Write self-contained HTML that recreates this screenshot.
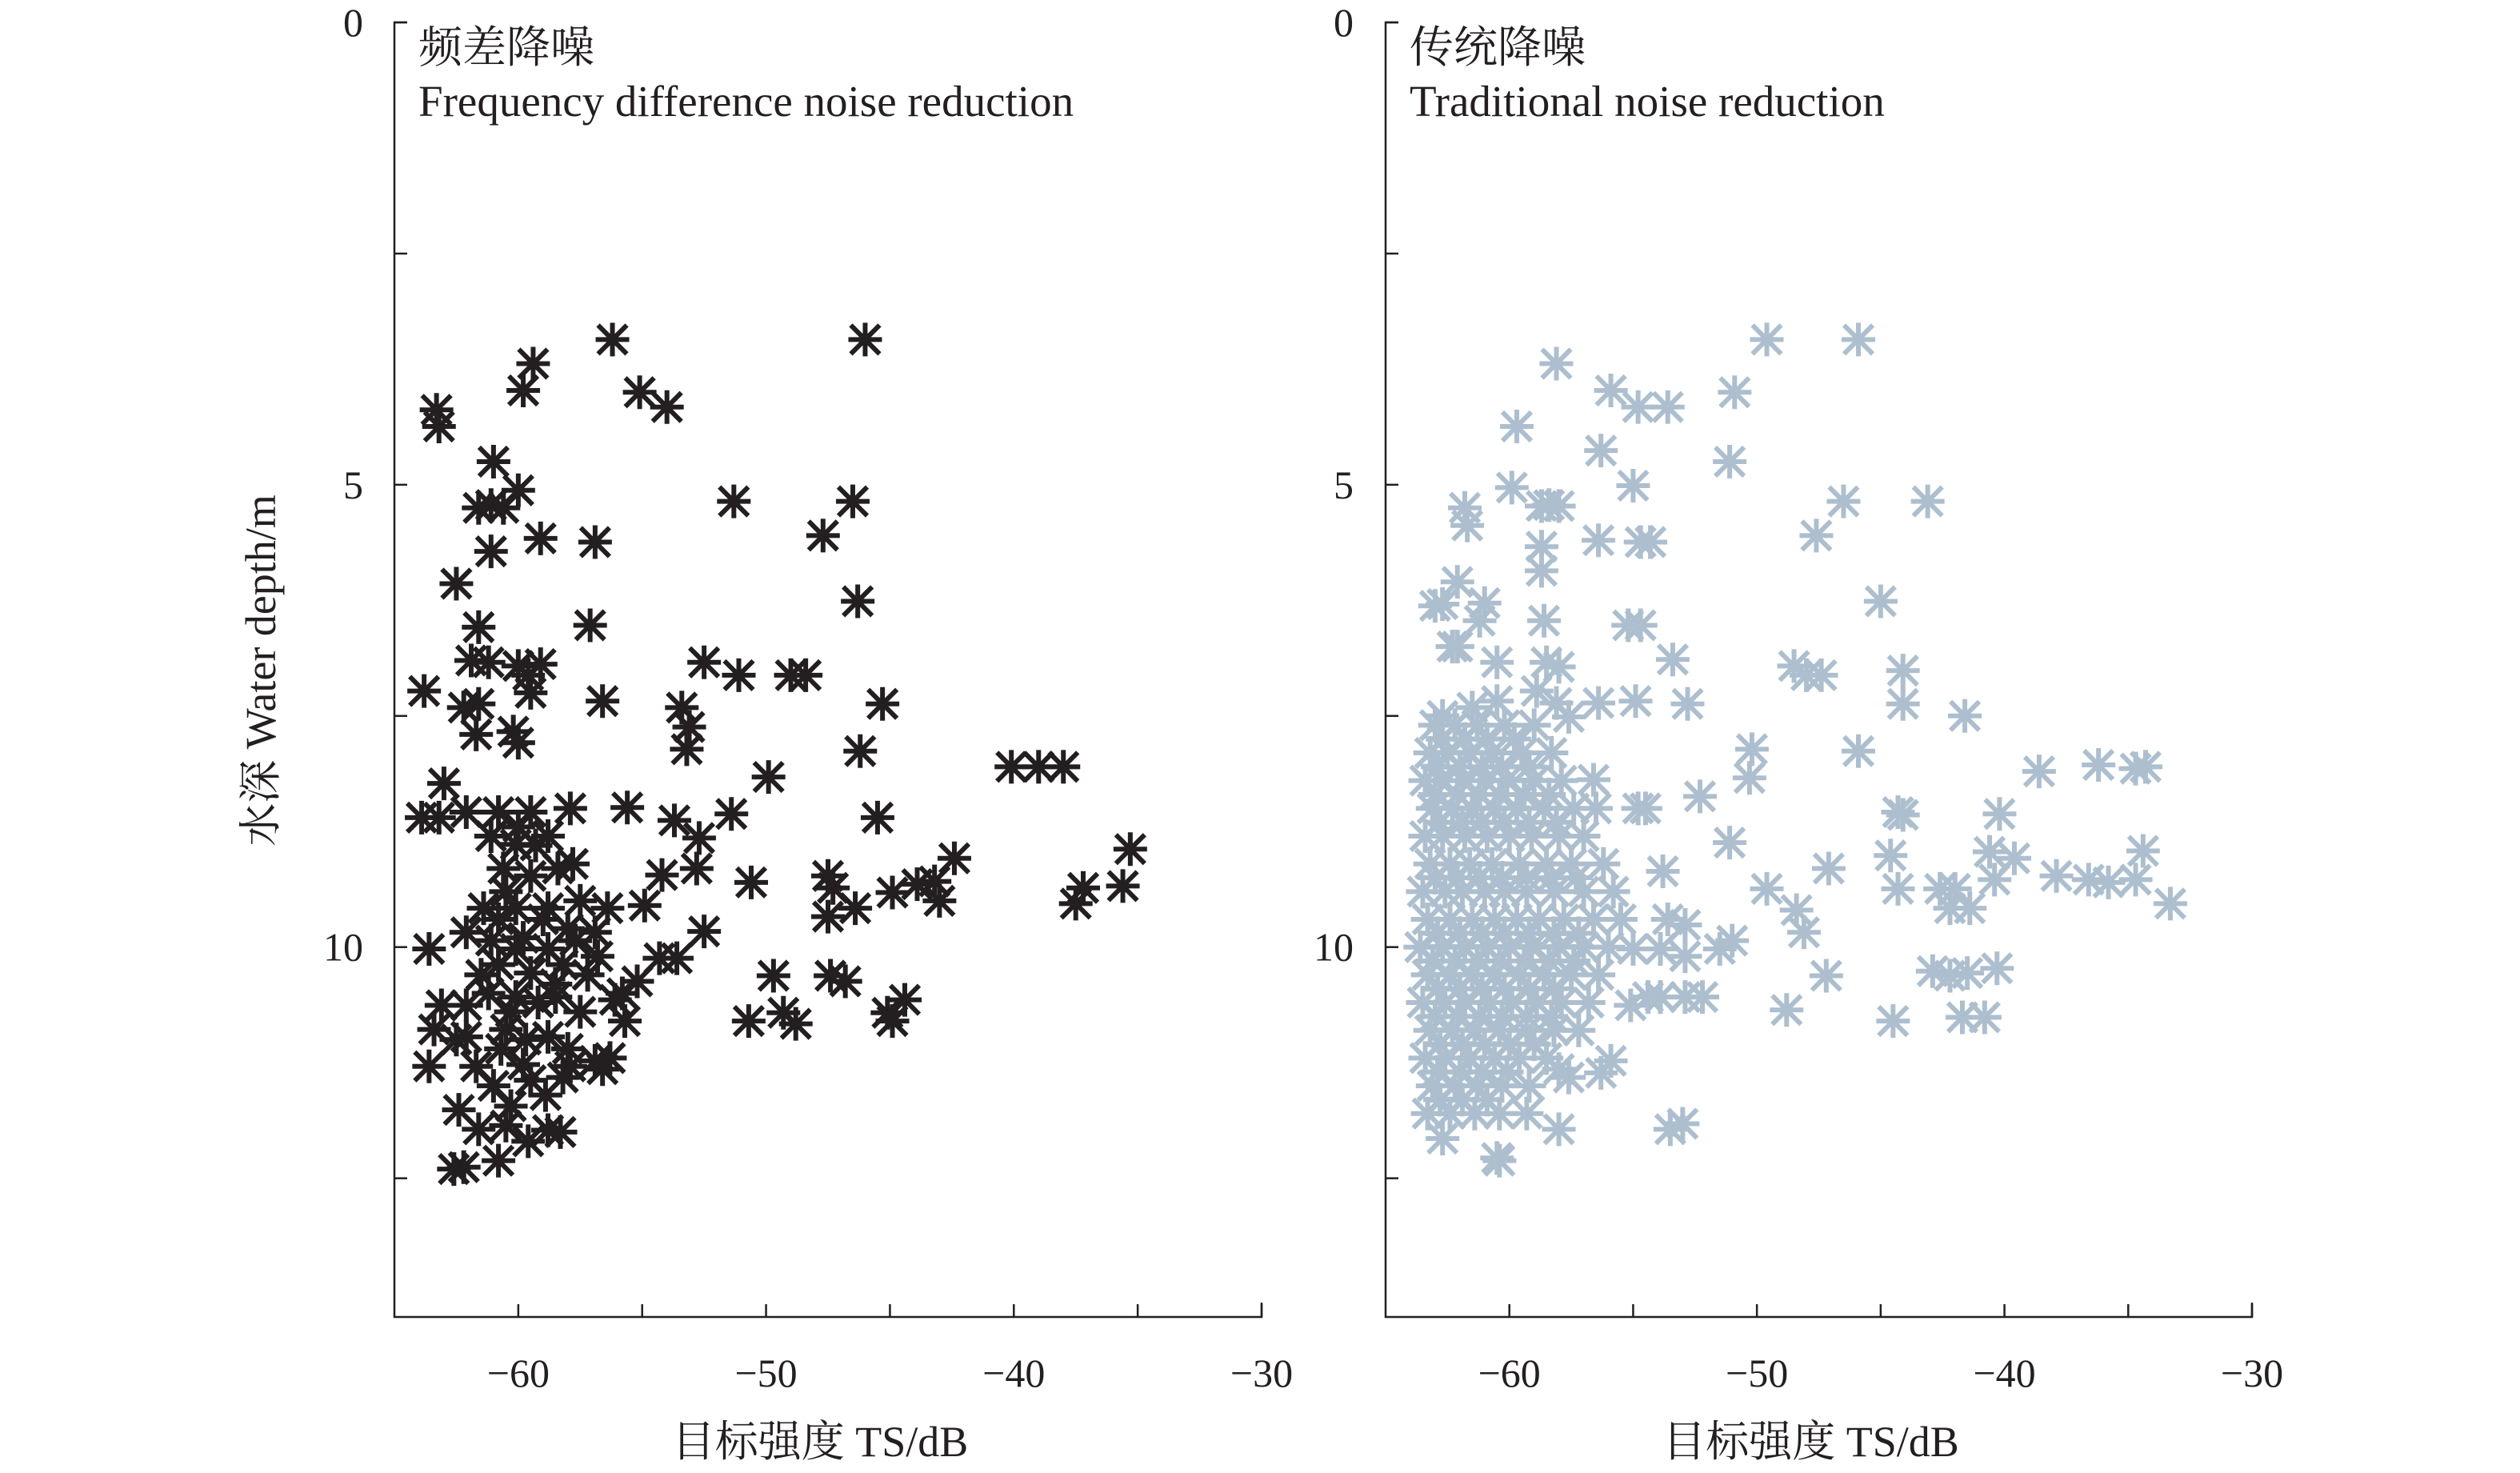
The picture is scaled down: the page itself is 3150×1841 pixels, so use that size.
<!DOCTYPE html>
<html><head><meta charset="utf-8"><style>
html,body{margin:0;padding:0;background:#fff;}
svg{display:block;}
text{font-family:"Liberation Serif","Noto Serif CJK SC",serif;fill:#231f20;}
</style></head><body>
<svg id="chart" width="3150" height="1841" viewBox="0 0 3150 1841" xmlns="http://www.w3.org/2000/svg"></svg>
<script>
// ---- data ----
const xTicks = [-60, -50, -40, -30];
const xMinorTicks = [-60, -55, -50, -45, -40, -35, -30];
const yTicks = [0, 5, 10];
const yMinorTicks = [0, 2.5, 5, 7.5, 10, 12.5];
const panelTitlesCN = ["频差降噪", "传统降噪"];
const panelTitlesEN = ["Frequency difference noise reduction", "Traditional noise reduction"];

const freqTS = [-56.2,-46.0,-59.4,-59.8,-55.1,-54.0,-63.3,-63.2,-61.0,-60.0,-61.6,-61.1,-60.6,-51.3,-46.5,-47.7,-61.1,-59.1,-56.9,-62.5,-46.3,-61.6,-57.1,-61.9,-61.2,-60.0,-59.1,-59.6,-52.5,-51.1,-49.0,-48.4,-63.8,-56.6,-59.5,-62.2,-61.6,-45.3,-53.4,-53.1,-61.7,-60.2,-60.0,-53.2,-46.2,-40.1,-39.0,-38.0,-49.9,-63.0,-63.9,-63.2,-62.1,-60.8,-59.5,-57.9,-55.6,-53.7,-45.5,-51.4,-61.1,-60.1,-58.8,-52.7,-42.4,-35.3,-60.6,-59.5,-58.4,-52.8,-54.2,-50.6,-47.5,-47.3,-44.9,-43.9,-43.2,-43.0,-35.6,-37.2,-37.5,-61.4,-60.1,-58.8,-57.5,-56.4,-54.9,-46.4,-47.5,-62.1,-61.1,-60.1,-58.8,-57.7,-56.9,-63.6,-52.5,-60.8,-59.5,-58.2,-54.3,-53.6,-49.7,-47.4,-46.8,-55.2,-63.1,-62.1,-60.1,-58.5,-56.1,-55.7,-44.4,-45.1,-44.9,-50.7,-49.3,-48.8,-63.4,-62.1,-60.5,-58.8,-63.6,-61.7,-59.8,-57.9,-56.9,-56.6,-59.5,-58.2,-62.4,-60.3,-61.6,-60.5,-58.8,-58.3,-62.6,-62.2,-60.8,-60.5,-59.0,-58.0,-60.8,-59.8,-58.5,-59.2,-60.3,-57.5,-61.5,-59.7,-58.0,-60.7,-61.2,-57.2,-56.8,-59.3,-57.8,-60.0,-59.6,-58.9,-61.0,-62.5,-56.3,-55.8];
const freqDepth = [3.43,3.43,3.69,3.98,4.0,4.16,4.19,4.37,4.75,5.06,5.25,5.22,5.25,5.18,5.18,5.55,5.72,5.58,5.62,6.07,6.26,6.54,6.52,6.9,6.92,6.96,6.94,7.06,6.92,7.06,7.06,7.06,7.23,7.34,7.25,7.41,7.37,7.37,7.41,7.62,7.70,7.67,7.79,7.86,7.88,8.05,8.05,8.05,8.16,8.23,8.6,8.6,8.54,8.54,8.54,8.5,8.49,8.63,8.6,8.56,8.8,8.89,8.8,8.82,9.04,8.94,9.15,9.23,9.15,9.15,9.22,9.3,9.23,9.36,9.41,9.32,9.29,9.5,9.34,9.36,9.53,9.58,9.58,9.58,9.5,9.58,9.55,9.58,9.67,9.84,9.93,10.02,10.02,9.93,9.84,10.02,9.83,10.19,10.28,10.19,10.12,10.12,10.31,10.31,10.37,10.37,10.63,10.63,10.54,10.54,10.57,10.8,10.57,10.71,10.8,10.8,10.71,10.83,10.89,10.97,10.89,10.97,11.29,11.29,11.27,11.29,11.23,11.32,11.44,11.41,11.76,11.72,11.97,11.93,11.98,12.0,12.4,12.38,12.31,9.4,9.7,9.8,9.7,9.9,10.4,10.6,10.7,10.7,10.3,11.0,11.1,11.1,10.5,10.3,10.1,8.9,9.1,8.7,12.1,11.6,11.5,11.0,11.2,10.5];

const tradTS = [-49.6,-45.9,-58.1,-55.9,-54.8,-53.6,-50.9,-59.7,-56.3,-51.1,-59.9,-55.0,-61.8,-61.7,-58.7,-58.0,-58.4,-46.5,-43.1,-47.6,-56.4,-54.7,-54.3,-62.1,-58.7,-58.7,-63.0,-62.7,-61.0,-61.2,-58.6,-55.2,-54.7,-45.0,-62.3,-62.1,-60.5,-58.5,-58.0,-53.4,-48.5,-48.0,-47.4,-44.1,-44.1,-41.6,-58.9,-58.1,-52.8,-56.4,-54.9,-62.7,-61.5,-60.5,-57.6,-50.2,-45.9,-38.6,-36.2,-34.7,-34.3,-56.6,-50.3,-44.3,-44.1,-40.2,-52.3,-54.8,-54.5,-51.1,-53.8,-47.1,-44.6,-49.6,-40.6,-39.6,-40.4,-37.9,-36.6,-35.8,-34.7,-34.4,-33.3,-42.6,-42.0,-42.2,-41.4,-44.3,-48.4,-48.1,-53.6,-52.9,-51.5,-51.0,-55.0,-53.9,-52.9,-47.2,-40.3,-42.9,-42.2,-41.5,-53.9,-52.9,-52.2,-48.8,-44.5,-41.7,-40.8,-55.1,-54.4,-55.9,-56.3,-58.0,-57.6,-53.5,-53.0,-58.0,-62.7,-60.5,-60.4,
-63,-62.2,-61.3,-60.2,-59.0,
-63.2,-62.5,-61.6,-60.7,-59.5,-58.3,
-63.4,-62.8,-61.9,-61.0,-60.1,-59.0,-57.9,
-63.1,-62.3,-61.5,-60.6,-59.7,-58.6,-57.4,-56.5,
-63.4,-62.7,-61.8,-60.9,-60.0,-59.1,-58.0,-57.0,
-63.2,-62.4,-61.6,-60.7,-59.6,-58.5,-57.5,-56.2,
-63.5,-62.6,-61.9,-61.0,-60.2,-59.3,-58.2,-57.0,-55.8,
-63.3,-62.4,-61.5,-60.6,-59.7,-58.8,-57.8,-56.6,-55.5,
-63.6,-62.7,-61.8,-60.9,-60.0,-59.1,-58.0,-57.0,-56.0,
-63.3,-62.4,-61.5,-60.6,-59.6,-58.6,-57.5,-56.4,
-63.5,-62.6,-61.8,-60.8,-59.9,-58.9,-57.9,-56.8,
-63.2,-62.3,-61.4,-60.4,-59.3,-58.2,-57.2,
-63.4,-62.6,-61.6,-60.6,-59.6,-58.5,
-63.1,-62.2,-61.3,-60.3,-59.2,
-63.3,-62.4,-61.4,-60.4,-59.3,
-62.7,-61.8,-60.9,-59.8,
-62.9,-62.0,-61.1,-60.3,-59.2,
-63.0,-62.1,-61.2,-60.4,-59.4,-58.4,
-62.8,-61.9,-61.1,-60.2,-59.2,-58.1,
-63.0,-62.1,-61.2,-60.3,-59.3,-58.3,-57.3,
-62.9,-62.0,-61.1,-60.2,-59.2,-58.2,-57.2,
-63.1,-62.2,-61.3,-60.4,-59.4,-58.4,-57.4,
-62.9,-62.0,-61.1,-60.2,-59.2,-58.2,
-63.0,-62.1,-61.2,-60.3,-59.3,-58.3,
-62.8,-61.9,-61.0,-60.0,-59.0,
-62.9,-62.0,-61.1,-60.1,
-62.8,-61.9,-60.9];
const tradDepth = [3.43,3.43,3.69,3.98,4.16,4.16,4.0,4.37,4.63,4.75,5.03,5.01,5.25,5.44,5.23,5.23,5.22,5.18,5.18,5.55,5.6,5.62,5.62,6.05,5.67,5.93,6.31,6.29,6.28,6.47,6.47,6.52,6.52,6.26,6.75,6.75,6.92,6.92,6.97,6.89,6.96,7.06,7.06,7.01,7.37,7.5,7.23,7.36,7.37,7.36,7.34,7.5,7.41,7.34,7.51,7.86,7.88,8.1,8.03,8.07,8.05,8.19,8.17,8.54,8.57,8.56,8.37,8.5,8.5,8.87,9.18,9.15,9.01,9.37,8.97,9.04,9.27,9.23,9.27,9.3,9.27,8.96,9.53,9.37,9.37,9.58,9.58,9.37,9.6,9.84,9.7,9.76,10.02,9.93,10.02,10.02,10.1,10.31,10.23,10.26,10.31,10.28,10.54,10.54,10.54,10.68,10.8,10.76,10.76,10.63,10.54,11.23,11.36,11.32,11.41,11.97,11.91,11.97,12.07,12.28,12.31,
7.6,7.6,7.6,7.6,7.6,
7.9,7.9,7.9,7.9,7.9,7.9,
8.2,8.2,8.2,8.2,8.2,8.2,8.2,
8.5,8.5,8.5,8.5,8.5,8.5,8.5,8.5,
8.8,8.8,8.8,8.8,8.8,8.8,8.8,8.8,
9.1,9.1,9.1,9.1,9.1,9.1,9.1,9.1,
9.4,9.4,9.4,9.4,9.4,9.4,9.4,9.4,9.4,
9.7,9.7,9.7,9.7,9.7,9.7,9.7,9.7,9.7,
10.0,10.0,10.0,10.0,10.0,10.0,10.0,10.0,10.0,
10.3,10.3,10.3,10.3,10.3,10.3,10.3,10.3,
10.6,10.6,10.6,10.6,10.6,10.6,10.6,10.6,
10.9,10.9,10.9,10.9,10.9,10.9,10.9,
11.2,11.2,11.2,11.2,11.2,11.2,
11.5,11.5,11.5,11.5,11.5,
11.8,11.8,11.8,11.8,11.8,
7.75,7.75,7.75,7.75,
8.05,8.05,8.05,8.05,8.05,
8.35,8.35,8.35,8.35,8.35,8.35,
8.65,8.65,8.65,8.65,8.65,8.65,
9.25,9.25,9.25,9.25,9.25,9.25,9.25,
9.85,9.85,9.85,9.85,9.85,9.85,9.85,
10.15,10.15,10.15,10.15,10.15,10.15,10.15,
10.45,10.45,10.45,10.45,10.45,10.45,
10.75,10.75,10.75,10.75,10.75,10.75,
11.05,11.05,11.05,11.05,11.05,
11.35,11.35,11.35,11.35,
11.65,11.65,11.65];

// ---- drawing ----
const NS = "http://www.w3.org/2000/svg";
const svg = document.getElementById("chart");
const X_MIN = -65, X_MAX = -30, Y_MIN = 0, Y_MAX = 14;
const TOP = 28, BOTTOM = 1646;
function mk(tag, attrs, parent) {
  const e = document.createElementNS(NS, tag);
  for (const k in attrs) e.setAttribute(k, attrs[k]);
  (parent || svg).appendChild(e);
  return e;
}
const panels = [
  {left: 493, right: 1577, xs: freqTS, ys: freqDepth, color: "#231f20", key: "frequency-difference", yLabX: 454},
  {left: 1732, right: 2815, xs: tradTS, ys: tradDepth, color: "#adbfcf", key: "traditional", yLabX: 1692}
];
panels.forEach((p, pi) => {
  const g = mk("g", {});
  
  
  const sx = v => p.left + (v - X_MIN) / (X_MAX - X_MIN) * (p.right - p.left);
  const sy = v => TOP + (v - Y_MIN) / (Y_MAX - Y_MIN) * (BOTTOM - TOP);
  const ax = mk("path", {d: `M${p.left+16},${TOP} H${p.left} V${BOTTOM} H${p.right} V${BOTTOM-18}`, fill: "none", stroke: "#231f20", "stroke-width": 2.5}, g);
  
  
  yMinorTicks.forEach(t => {
    const l = mk("line", {x1: p.left, x2: p.left + 16, y1: sy(t), y2: sy(t), stroke: "#231f20", "stroke-width": 2.5}, g);
    
    
  });
  xMinorTicks.forEach(t => {
    const l = mk("line", {x1: sx(t), x2: sx(t), y1: BOTTOM, y2: BOTTOM - 16, stroke: "#231f20", "stroke-width": 2.5}, g);
    
    
  });
  yTicks.forEach(t => {
    const tx = mk("text", {x: p.yLabX, y: sy(t) + 17, "font-size": 50, "text-anchor": "end"}, g);
    tx.textContent = String(t);
    
    
  });
  xTicks.forEach(t => {
    const tx = mk("text", {x: sx(t), y: 1733, "font-size": 50, "text-anchor": "middle"}, g);
    tx.textContent = String(t).replace("-", "\u2212");
    
    
  });
  const xl = mk("text", {x: (p.left + p.right) / 2 - 10, y: 1820, "font-size": 54, "text-anchor": "middle"}, g);
  xl.textContent = "目标强度 TS/dB";
  
  
  const t1 = mk("text", {x: p.left + 30, y: 78, "font-size": 55}, g);
  t1.textContent = panelTitlesCN[pi];
  
  
  const t2 = mk("text", {x: p.left + 30, y: 145, "font-size": 55}, g);
  t2.textContent = panelTitlesEN[pi];
  
  
  const pts = mk("g", {stroke: p.color, "stroke-width": 6, fill: "none"}, g);
  
  
  const r = 21, d = 18;
  p.xs.forEach((xv, i) => {
    const cx = sx(xv), cy = sy(p.ys[i]);
    const m = mk("path", {d: `M${cx-r},${cy}H${cx+r}M${cx},${cy-r}V${cy+r}M${cx-d},${cy-d}L${cx+d},${cy+d}M${cx-d},${cy+d}L${cx+d},${cy-d}`}, pts);
    
    
  });
});
const yl = mk("text", {x: 0, y: 0, "font-size": 54, "text-anchor": "middle", transform: "translate(344,838) rotate(-90)"});
yl.textContent = "水深 Water depth/m";


</script>
</body></html>
